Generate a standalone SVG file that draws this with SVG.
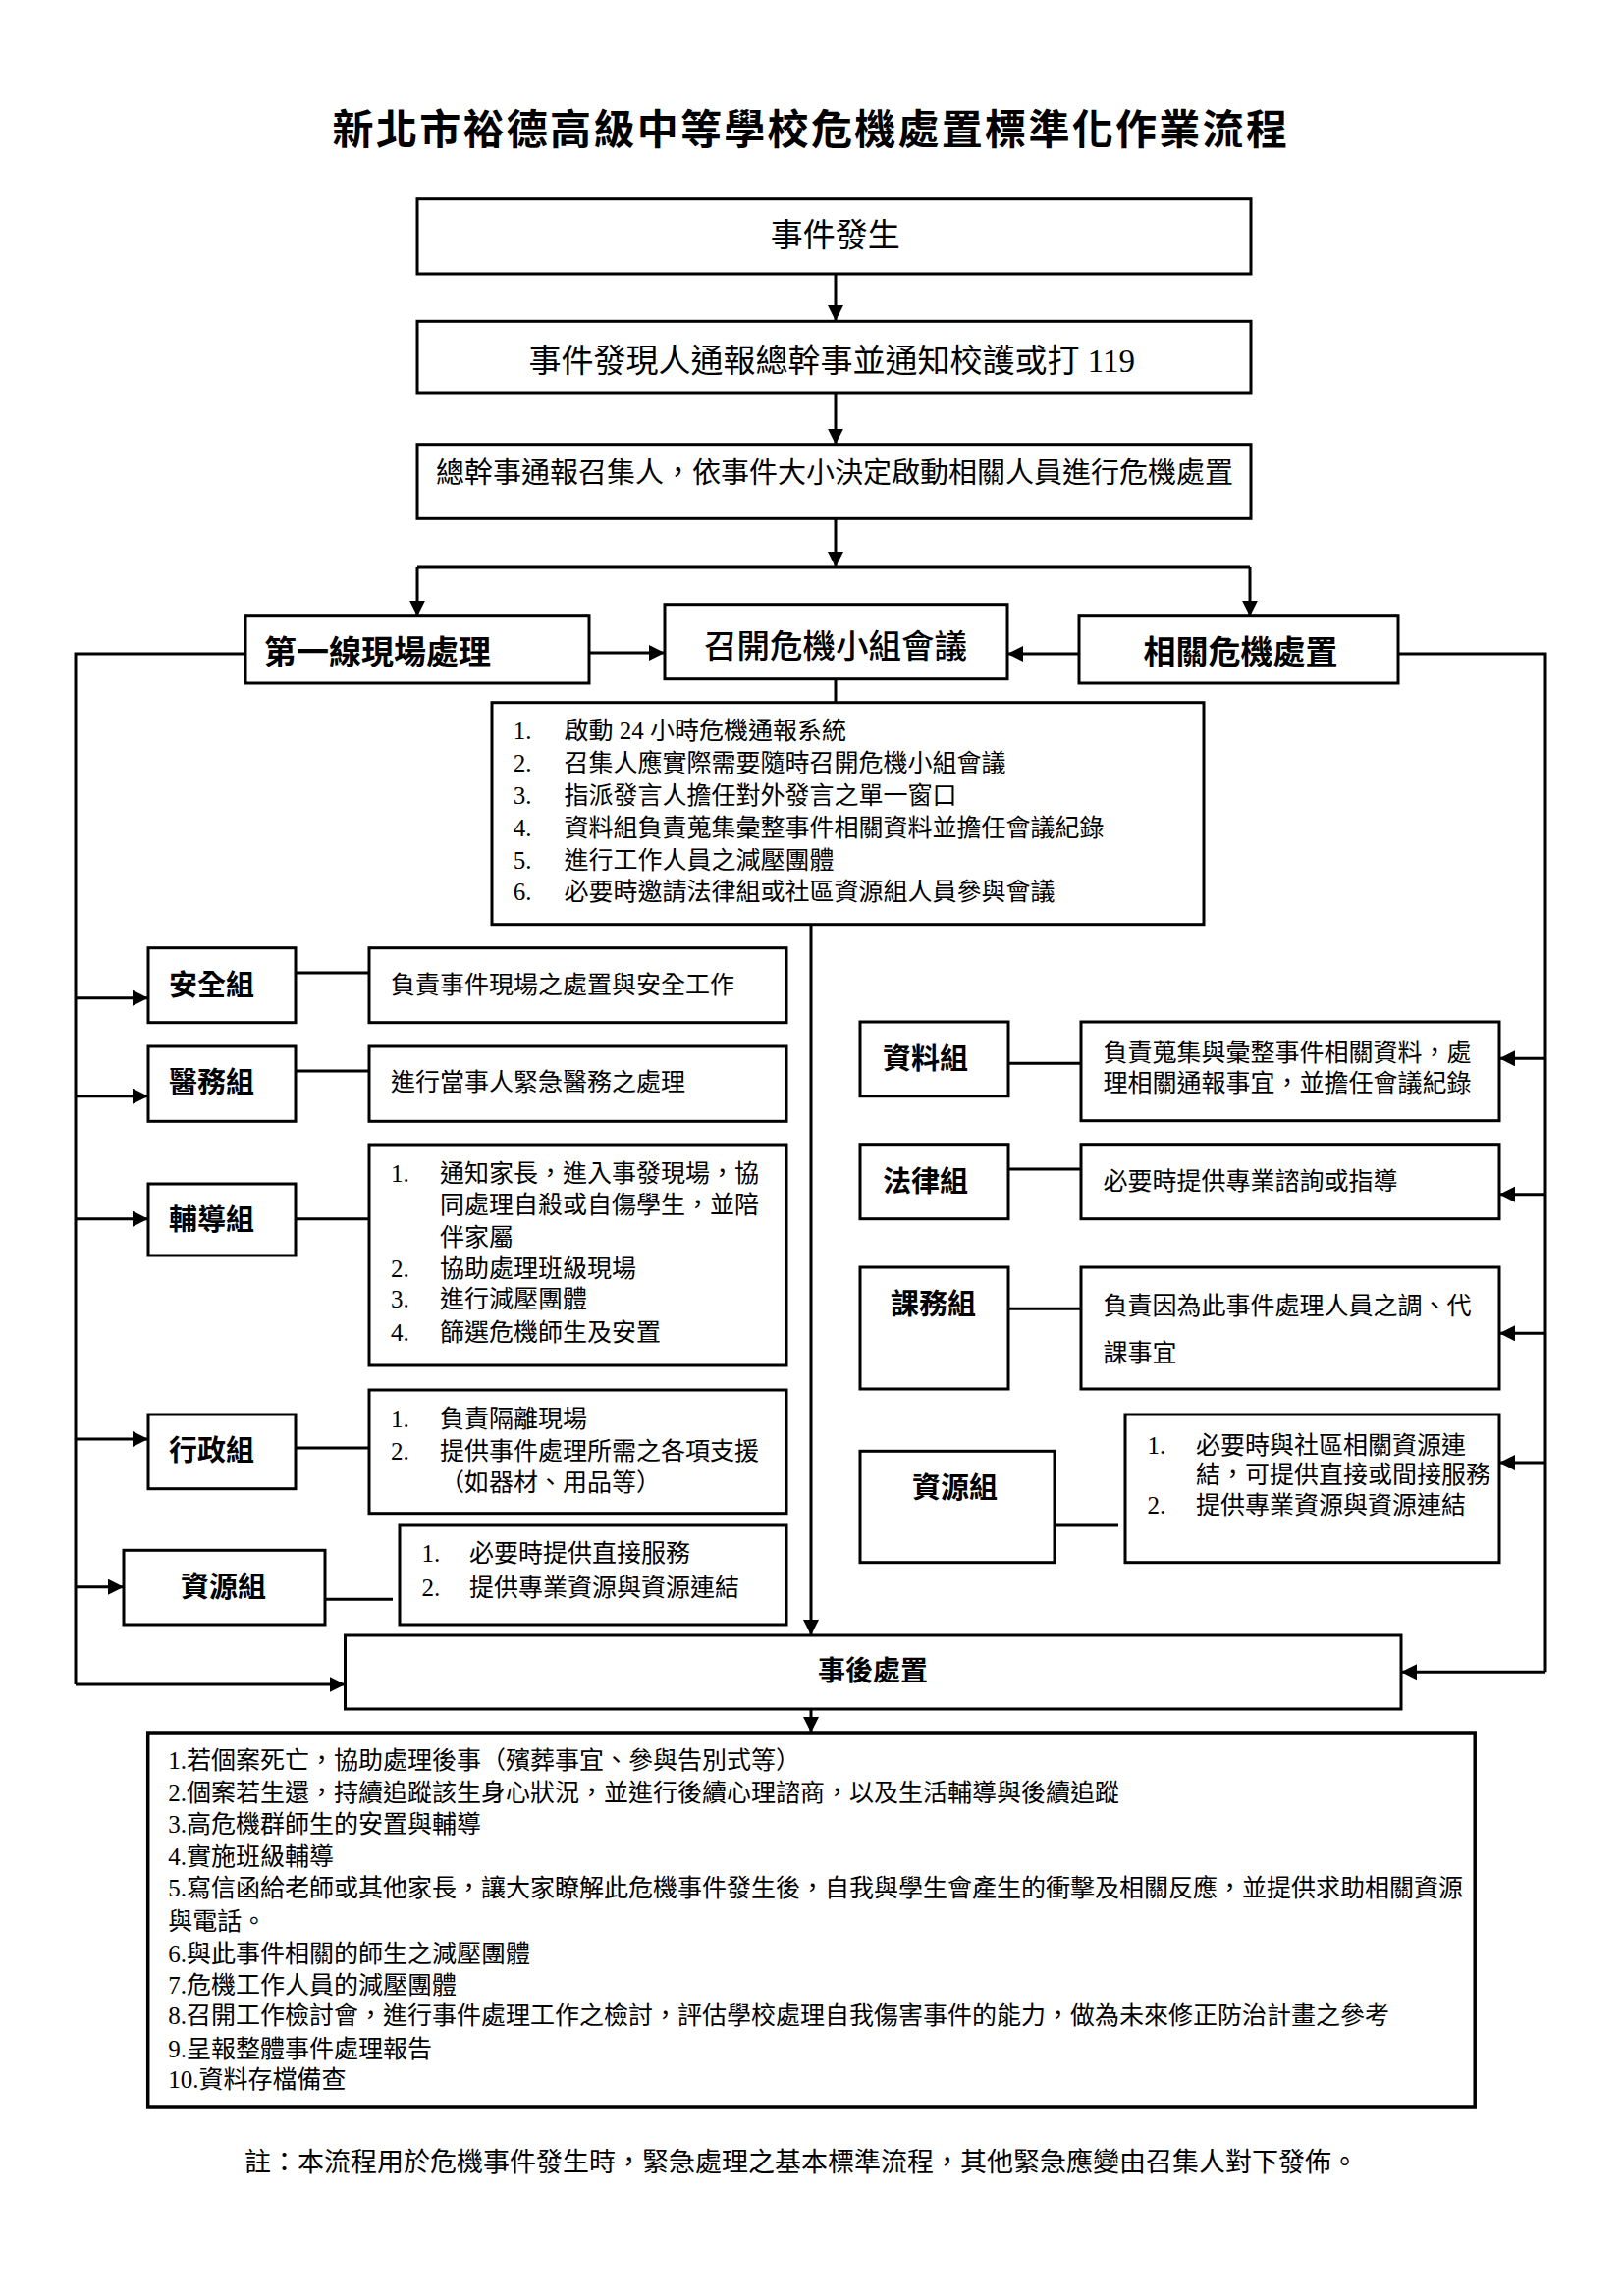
<svg xmlns="http://www.w3.org/2000/svg" width="1654" height="2339" viewBox="0 0 1654 2339">
<style>
  .bx { fill: #fff; stroke: #000; stroke-width: 3; }
  .bxb { fill: #fff; stroke: #000; stroke-width: 3.5; }
  .ln { fill: none; stroke: #000; stroke-width: 3; }
  .la { fill: none; stroke: #000; stroke-width: 3; marker-end: url(#arr); }
  text { font-family: "Liberation Serif", "Noto Sans CJK TC", serif; fill: #000; }
  .t25 { font-size: 25px; }
  .t33 { font-size: 33px; }
  .lbl { font-size: 29px; font-weight: bold; font-family: "Noto Sans CJK TC", sans-serif; }
  .hd { font-size: 33px; font-weight: bold; font-family: "Noto Sans CJK TC", sans-serif; }
  .title { font-size: 42px; font-weight: bold; letter-spacing: 2.3px; font-family: "Noto Sans CJK TC", sans-serif; }
</style>
<defs>
  <marker id="arr" viewBox="0 0 16 16" refX="16" refY="8" markerWidth="16" markerHeight="16" markerUnits="userSpaceOnUse" orient="auto">
    <path d="M0,0 L16,8 L0,16 z" fill="#000"/>
  </marker>
</defs>
<rect width="1654" height="2339" fill="#fff"/>

<text class="title" x="338.6" y="147">新北市裕德高級中等學校危機處置標準化作業流程</text>

<g id="connectors">
  <line class="la" x1="851" y1="279" x2="851" y2="327"/>
  <line class="la" x1="851" y1="400" x2="851" y2="452.7"/>
  <line class="la" x1="851" y1="528.3" x2="851" y2="578"/>
  <line class="ln" x1="425" y1="578" x2="1273" y2="578"/>
  <line class="la" x1="425" y1="578" x2="425" y2="627.7"/>
  <line class="la" x1="1273" y1="578" x2="1273" y2="627.7"/>
  <line class="la" x1="600" y1="665" x2="677" y2="665"/>
  <line class="la" x1="1099" y1="666" x2="1026" y2="666"/>
  <line class="ln" x1="851" y1="691.7" x2="851" y2="715.7"/>
  <line class="la" x1="826" y1="941.7" x2="826" y2="1666"/>
  <!-- left trunk -->
  <polyline class="ln" points="250,666 77,666 77,1716"/>
  <line class="la" x1="77" y1="1016.7" x2="151" y2="1016.7"/>
  <line class="la" x1="77" y1="1116.7" x2="151" y2="1116.7"/>
  <line class="la" x1="77" y1="1241.7" x2="151" y2="1241.7"/>
  <line class="la" x1="77" y1="1466" x2="151" y2="1466"/>
  <line class="la" x1="77" y1="1616.7" x2="126" y2="1616.7"/>
  <line class="la" x1="77" y1="1716" x2="351.5" y2="1716"/>
  <!-- right trunk -->
  <polyline class="ln" points="1424,666 1574,666 1574,1703.3"/>
  <line class="la" x1="1574" y1="1078.3" x2="1527" y2="1078.3"/>
  <line class="la" x1="1574" y1="1216.7" x2="1527" y2="1216.7"/>
  <line class="la" x1="1574" y1="1358.3" x2="1527" y2="1358.3"/>
  <line class="la" x1="1574" y1="1490" x2="1527" y2="1490"/>
  <line class="la" x1="1574" y1="1703.3" x2="1427" y2="1703.3"/>
  <!-- label to description -->
  <line class="ln" x1="301" y1="991" x2="376" y2="991"/>
  <line class="ln" x1="301" y1="1091" x2="376" y2="1091"/>
  <line class="ln" x1="301" y1="1241.7" x2="376" y2="1241.7"/>
  <line class="ln" x1="301" y1="1475" x2="376" y2="1475"/>
  <line class="ln" x1="331" y1="1629.3" x2="400" y2="1629.3"/>
  <line class="ln" x1="1027" y1="1083.3" x2="1101" y2="1083.3"/>
  <line class="ln" x1="1027" y1="1191" x2="1101" y2="1191"/>
  <line class="ln" x1="1027" y1="1333.3" x2="1101" y2="1333.3"/>
  <line class="ln" x1="1074" y1="1554" x2="1139" y2="1554"/>
  <line class="la" x1="826" y1="1741" x2="826" y2="1765"/>
</g>

<g id="n-event">
  <rect class="bx" x="425" y="202.7" width="849" height="76.3"/>
  <text class="t33" x="850.7" y="250.5" text-anchor="middle">事件發生</text>
</g>
<g id="n-report">
  <rect class="bx" x="425" y="327.3" width="849" height="72.7"/>
  <text class="t33" x="538.6" y="379">事件發現人通報總幹事並通知校護或打 119</text>
</g>
<g id="n-convener">
  <rect class="bx" x="425" y="452.7" width="849" height="75.6"/>
  <text x="443.9" y="492" style="font-size:29px">總幹事通報召集人，依事件大小決定啟動相關人員進行危機處置</text>
</g>

<g id="n-firstline">
  <rect class="bx" x="250" y="627.7" width="350" height="68.3"/>
  <text class="hd" x="269" y="676">第一線現場處理</text>
</g>
<g id="n-meeting">
  <rect class="bx" x="677" y="615.7" width="349" height="76"/>
  <text x="717" y="670" style="font-size:33.5px; font-family:'Noto Sans CJK TC', sans-serif; font-weight:500">召開危機小組會議</text>
</g>
<g id="n-related">
  <rect class="bx" x="1099" y="627.7" width="325" height="68.3"/>
  <text class="hd" x="1164.5" y="676">相關危機處置</text>
</g>

<g id="n-meeting-list">
  <rect class="bx" x="501" y="715.7" width="725" height="226"/>
  <text class="t25"><tspan x="522.7" y="753">1.</tspan><tspan x="574.4" y="753">啟動 24 小時危機通報系統</tspan></text>
  <text class="t25"><tspan x="522.7" y="786">2.</tspan><tspan x="574.4" y="786">召集人應實際需要隨時召開危機小組會議</tspan></text>
  <text class="t25"><tspan x="522.7" y="819">3.</tspan><tspan x="574.4" y="819">指派發言人擔任對外發言之單一窗口</tspan></text>
  <text class="t25"><tspan x="522.7" y="852">4.</tspan><tspan x="574.4" y="852">資料組負責蒐集彙整事件相關資料並擔任會議紀錄</tspan></text>
  <text class="t25"><tspan x="522.7" y="885">5.</tspan><tspan x="574.4" y="885">進行工作人員之減壓團體</tspan></text>
  <text class="t25"><tspan x="522.7" y="917">6.</tspan><tspan x="574.4" y="917">必要時邀請法律組或社區資源組人員參與會議</tspan></text>
</g>

<g id="n-safety">
  <rect class="bx" x="151" y="965.7" width="150" height="76"/>
  <text class="lbl" x="172" y="1013.5">安全組</text>
</g>
<g id="n-safety-desc">
  <rect class="bx" x="376" y="965.7" width="425" height="76"/>
  <text class="t25" x="398" y="1012">負責事件現場之處置與安全工作</text>
</g>
<g id="n-medical">
  <rect class="bx" x="151" y="1066" width="150" height="76.3"/>
  <text class="lbl" x="172" y="1113">醫務組</text>
</g>
<g id="n-medical-desc">
  <rect class="bx" x="376" y="1066" width="425" height="76.3"/>
  <text class="t25" x="398" y="1111">進行當事人緊急醫務之處理</text>
</g>
<g id="n-counsel">
  <rect class="bx" x="151" y="1206" width="150" height="73"/>
  <text class="lbl" x="172" y="1253">輔導組</text>
</g>
<g id="n-counsel-desc">
  <rect class="bx" x="376" y="1166" width="425" height="225"/>
  <text class="t25"><tspan x="398" y="1204">1.</tspan><tspan x="448" y="1204">通知家長，進入事發現場，協</tspan></text>
  <text class="t25" x="448" y="1236">同處理自殺或自傷學生，並陪</text>
  <text class="t25" x="448" y="1269">伴家屬</text>
  <text class="t25"><tspan x="398" y="1301">2.</tspan><tspan x="448" y="1301">協助處理班級現場</tspan></text>
  <text class="t25"><tspan x="398" y="1332">3.</tspan><tspan x="448" y="1332">進行減壓團體</tspan></text>
  <text class="t25"><tspan x="398" y="1366">4.</tspan><tspan x="448" y="1366">篩選危機師生及安置</tspan></text>
</g>
<g id="n-admin">
  <rect class="bx" x="151" y="1441" width="150" height="75.7"/>
  <text class="lbl" x="172" y="1488">行政組</text>
</g>
<g id="n-admin-desc">
  <rect class="bx" x="376" y="1416" width="425" height="125.7"/>
  <text class="t25"><tspan x="398" y="1454">1.</tspan><tspan x="448" y="1454">負責隔離現場</tspan></text>
  <text class="t25"><tspan x="398" y="1487">2.</tspan><tspan x="448" y="1487">提供事件處理所需之各項支援</tspan></text>
  <text class="t25" x="448" y="1519">（如器材、用品等）</text>
</g>
<g id="n-resource-l">
  <rect class="bx" x="126" y="1579.3" width="205" height="75.7"/>
  <text class="lbl" x="184" y="1627">資源組</text>
</g>
<g id="n-resource-l-desc">
  <rect class="bx" x="407" y="1554" width="394" height="101"/>
  <text class="t25"><tspan x="429.6" y="1591">1.</tspan><tspan x="478" y="1591">必要時提供直接服務</tspan></text>
  <text class="t25"><tspan x="429.6" y="1626">2.</tspan><tspan x="478" y="1626">提供專業資源與資源連結</tspan></text>
</g>

<g id="n-data">
  <rect class="bx" x="876" y="1041" width="151" height="75.7"/>
  <text class="lbl" x="899" y="1089">資料組</text>
</g>
<g id="n-data-desc">
  <rect class="bx" x="1101" y="1041" width="426" height="100.7"/>
  <text class="t25" x="1123.6" y="1081">負責蒐集與彙整事件相關資料，處</text>
  <text class="t25" x="1123.6" y="1112">理相關通報事宜，並擔任會議紀錄</text>
</g>
<g id="n-legal">
  <rect class="bx" x="876" y="1165.7" width="151" height="76"/>
  <text class="lbl" x="899" y="1214">法律組</text>
</g>
<g id="n-legal-desc">
  <rect class="bx" x="1101" y="1165.7" width="426" height="76"/>
  <text class="t25" x="1123.6" y="1212">必要時提供專業諮詢或指導</text>
</g>
<g id="n-course">
  <rect class="bx" x="876" y="1291" width="151" height="124"/>
  <text class="lbl" x="907" y="1339">課務組</text>
</g>
<g id="n-course-desc">
  <rect class="bx" x="1101" y="1291" width="426" height="124"/>
  <text class="t25" x="1123.6" y="1339">負責因為此事件處理人員之調、代</text>
  <text class="t25" x="1123.6" y="1387">課事宜</text>
</g>
<g id="n-resource-r">
  <rect class="bx" x="876" y="1478.3" width="198" height="113.4"/>
  <text class="lbl" x="929" y="1526">資源組</text>
</g>
<g id="n-resource-r-desc">
  <rect class="bx" x="1146" y="1441" width="381" height="150.7"/>
  <text class="t25"><tspan x="1168.5" y="1481">1.</tspan><tspan x="1218" y="1481">必要時與社區相關資源連</tspan></text>
  <text class="t25" x="1218" y="1511">結，可提供直接或間接服務</text>
  <text class="t25"><tspan x="1168.5" y="1542">2.</tspan><tspan x="1218" y="1542">提供專業資源與資源連結</tspan></text>
</g>

<g id="n-after">
  <rect class="bx" x="351.5" y="1666" width="1075.5" height="75"/>
  <text x="833" y="1712" style="font-size:28px; font-weight:bold; font-family:'Noto Sans CJK TC', sans-serif">事後處置</text>
</g>

<g id="n-after-list">
  <rect class="bxb" x="150.7" y="1765" width="1351.5" height="381"/>
  <text class="t25" x="171.3" y="1802">1.若個案死亡，協助處理後事（殯葬事宜、參與告別式等）</text>
  <text class="t25" x="171.3" y="1835">2.個案若生還，持續追蹤該生身心狀況，並進行後續心理諮商，以及生活輔導與後續追蹤</text>
  <text class="t25" x="171.3" y="1867">3.高危機群師生的安置與輔導</text>
  <text class="t25" x="171.3" y="1900">4.實施班級輔導</text>
  <text class="t25" x="171.3" y="1932">5.寫信函給老師或其他家長，讓大家瞭解此危機事件發生後，自我與學生會產生的衝擊及相關反應，並提供求助相關資源</text>
  <text class="t25" x="171.3" y="1966">與電話。</text>
  <text class="t25" x="171.3" y="1999">6.與此事件相關的師生之減壓團體</text>
  <text class="t25" x="171.3" y="2031">7.危機工作人員的減壓團體</text>
  <text class="t25" x="171.3" y="2062">8.召開工作檢討會，進行事件處理工作之檢討，評估學校處理自我傷害事件的能力，做為未來修正防治計畫之參考</text>
  <text class="t25" x="171.3" y="2096">9.呈報整體事件處理報告</text>
  <text class="t25" x="171.3" y="2127">10.資料存檔備查</text>
</g>

<text x="249" y="2211.5" style="font-size:27px">註：本流程用於危機事件發生時，緊急處理之基本標準流程，其他緊急應變由召集人對下發佈。</text>
</svg>
